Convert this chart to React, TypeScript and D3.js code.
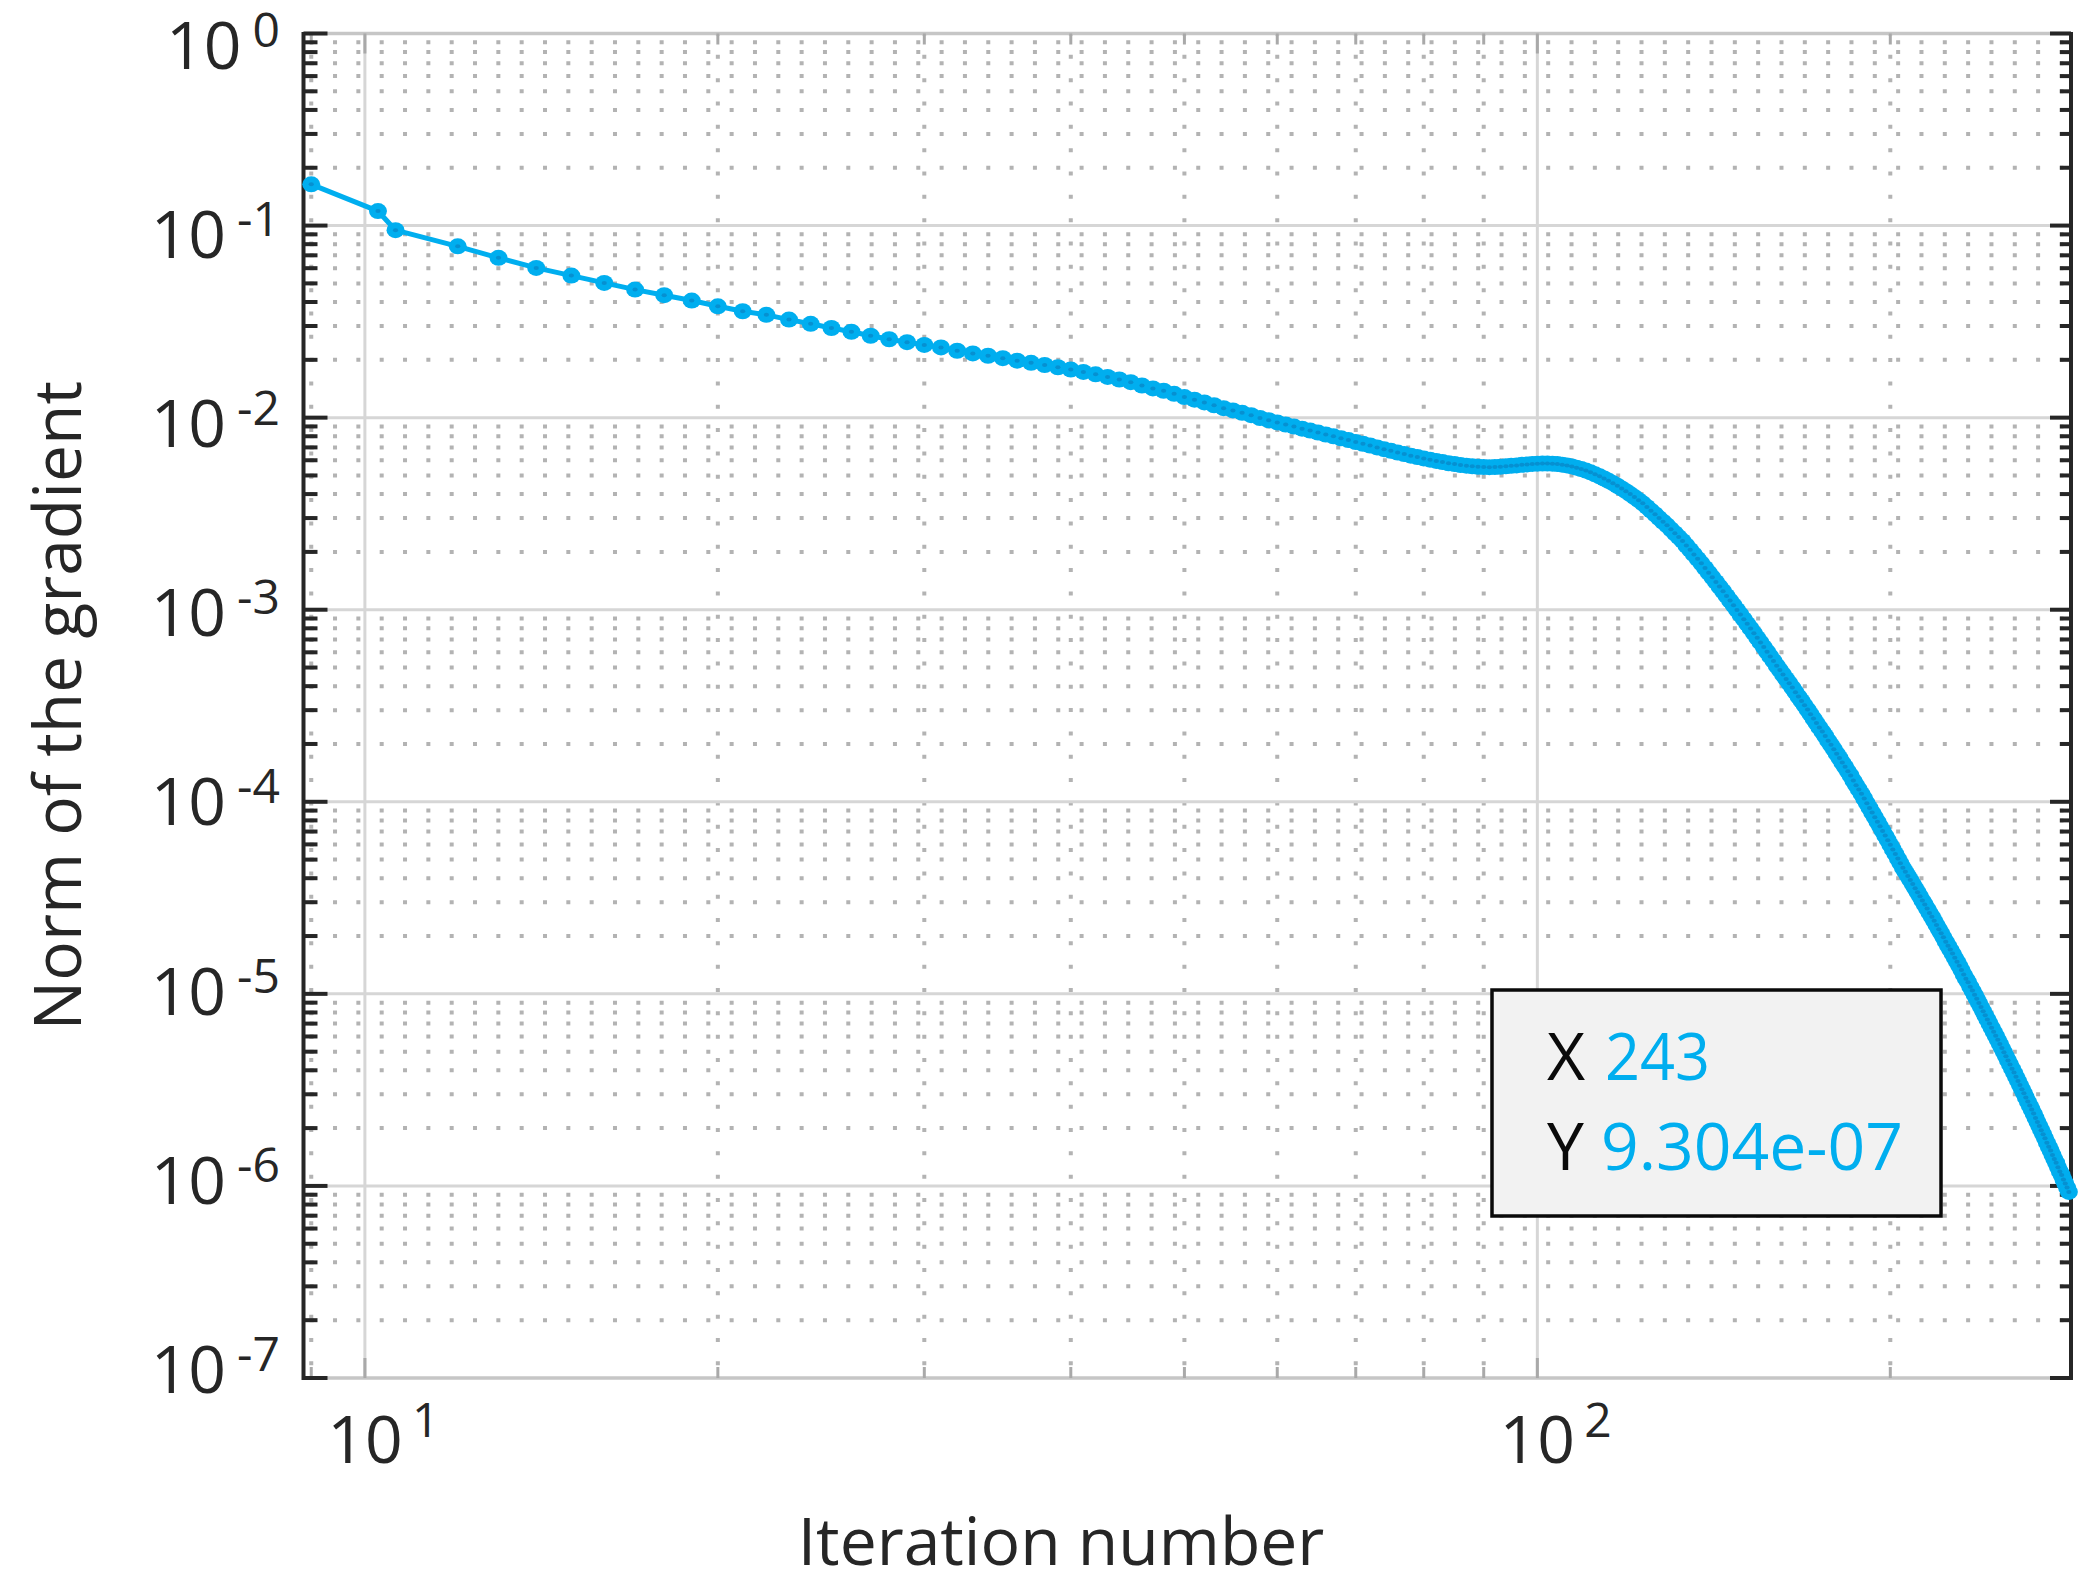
import React from 'react';
import * as d3 from 'd3';

// ---- data ----
const headIterations = [9, 10.26, 10.62];
const headNorms = [0.164, 0.119, 0.0946];
const firstRegularIteration = 12;
const regularNorms = [
  0.0780, 0.0679, 0.0602, 0.0549, 0.0503, 0.0464, 0.0434, 0.0407, 0.0380, 0.0358,
  0.0343, 0.0324, 0.0308, 0.0293, 0.0280, 0.0267, 0.0256, 0.0247, 0.0239, 0.0232,
  0.0223, 0.0216, 0.0210, 0.0204, 0.0198, 0.0193, 0.0188, 0.0183, 0.0178, 0.0173,
  0.0168, 0.0163, 0.0158, 0.0153, 0.0147, 0.0142, 0.0138, 0.0133, 0.0128, 0.0124,
  0.0120, 0.0116, 0.0112, 0.0109, 0.0106, 0.0103, 0.00996, 0.00969, 0.00944, 0.00921,
  0.00898, 0.00876, 0.00856, 0.00836, 0.00817, 0.00799, 0.00781, 0.00764, 0.00747, 0.00731,
  0.00716, 0.00700, 0.00685, 0.00672, 0.00658, 0.00646, 0.00634, 0.00624, 0.00613, 0.00604,
  0.00595, 0.00587, 0.00579, 0.00573, 0.00567, 0.00562, 0.00558, 0.00555, 0.00553, 0.00552,
  0.00553, 0.00555, 0.00558, 0.00561, 0.00564, 0.00568, 0.00571, 0.00574, 0.00576, 0.00577,
  0.00577, 0.00576, 0.00573, 0.00569, 0.00564, 0.00557, 0.00549, 0.00540, 0.00530, 0.00519,
  0.00507, 0.00495, 0.00482, 0.00469, 0.00456, 0.00442, 0.00428, 0.00414, 0.00400, 0.00386,
  0.00372, 0.00358, 0.00343, 0.00328, 0.00314, 0.00300, 0.00287, 0.00275, 0.00262, 0.00250,
  0.00239, 0.00228, 0.00216, 0.00205, 0.00194, 0.00184, 1.743e-3, 1.649e-3, 1.559e-3, 1.475e-3,
  1.395e-3, 1.319e-3, 1.248e-3, 1.180e-3, 1.116e-3, 1.055e-3, 9.98e-4, 9.44e-4, 8.93e-4, 8.44e-4,
  7.99e-4, 7.55e-4, 7.14e-4, 6.76e-4, 6.39e-4, 6.04e-4, 5.71e-4, 5.41e-4, 5.11e-4, 4.85e-4,
  4.60e-4, 4.36e-4, 4.14e-4, 3.93e-4, 3.72e-4, 3.53e-4, 3.35e-4, 3.18e-4, 3.02e-4, 2.86e-4,
  2.71e-4, 2.57e-4, 2.44e-4, 2.32e-4, 2.20e-4, 2.08e-4, 1.98e-4, 1.88e-4, 1.78e-4, 1.69e-4,
  1.60e-4, 1.52e-4, 1.44e-4, 1.37e-4, 1.29e-4, 1.22e-4, 1.16e-4, 1.10e-4, 1.04e-4, 9.82e-5,
  9.29e-5, 8.79e-5, 8.32e-5, 7.87e-5, 7.45e-5, 7.05e-5, 6.67e-5, 6.31e-5, 5.97e-5, 5.65e-5,
  5.35e-5, 5.06e-5, 4.79e-5, 4.53e-5, 4.32e-5, 4.11e-5, 3.92e-5, 3.73e-5, 3.55e-5, 3.38e-5,
  3.22e-5, 3.06e-5, 2.92e-5, 2.78e-5, 2.64e-5, 2.52e-5, 2.40e-5, 2.28e-5, 2.17e-5, 2.07e-5,
  1.97e-5, 1.87e-5, 1.78e-5, 1.70e-5, 1.62e-5, 1.54e-5, 1.47e-5, 1.40e-5, 1.33e-5, 1.26e-5,
  1.20e-5, 1.15e-5, 1.09e-5, 1.04e-5, 9.89e-6, 9.42e-6, 8.96e-6, 8.53e-6, 8.12e-6, 7.73e-6,
  7.36e-6, 7.01e-6, 6.67e-6, 6.35e-6, 6.05e-6, 5.76e-6, 5.48e-6, 5.22e-6, 4.97e-6, 4.73e-6,
  4.50e-6, 4.29e-6, 4.08e-6, 3.89e-6, 3.70e-6, 3.52e-6, 3.35e-6, 3.19e-6, 3.04e-6, 2.89e-6,
  2.75e-6, 2.62e-6, 2.50e-6, 2.38e-6, 2.26e-6, 2.15e-6, 2.05e-6, 1.95e-6, 1.86e-6, 1.77e-6,
  1.68e-6, 1.60e-6, 1.53e-6, 1.45e-6, 1.38e-6, 1.32e-6, 1.25e-6, 1.19e-6, 1.14e-6, 1.08e-6,
  1.03e-6, 9.80e-7, 9.304e-7,
];
const xDomain = [8.864, 285.2];
const yDomain = [1e-7, 1];
const xTickExponents = [1, 2];
const yTickExponents = [0, -1, -2, -3, -4, -5, -6, -7];
const tipIteration = 243;
const tipNorm = 9.304e-7;
const xTitle = 'Iteration number';
const yTitle = 'Norm of the gradient';

const FONT = "'Open Sans', 'Noto Sans', sans-serif";
const LINE_COLOR = '#00aeef';
const TEXT_COLOR = '#262626';

function fmtExp(v: number) {
  const [m, e] = v.toExponential(3).split('e');
  const n = parseInt(e, 10);
  const s = n < 0 ? '-' : '+';
  return `${m}e${s}${String(Math.abs(n)).padStart(2, '0')}`;
}

export default function App() {
  const W = 2089, H = 1594;
  const L = 303.5, R = 2071, T = 33.5, B = 1378;
  const x = d3.scaleLog().domain(xDomain).range([L, R]);
  const y = d3.scaleLog().domain(yDomain).range([B, T]);

  const points: [number, number][] = [
    ...headIterations.map((it, i) => [it, headNorms[i]] as [number, number]),
    ...regularNorms.map((v, i) => [firstRegularIteration + i, v] as [number, number]),
  ];
  const line = d3.line<[number, number]>().x(d => x(d[0])).y(d => y(d[1]));

  const isPow10 = (v: number) => Math.abs(Math.log10(v) - Math.round(Math.log10(v))) < 1e-9;
  const xTicks = x.ticks();
  const yTicks = y.ticks();
  const xMinor = xTicks.filter(v => !isPow10(v));
  const xMajor = xTicks.filter(v => isPow10(v));
  const yMinor = yTicks.filter(v => !isPow10(v));
  const yMajor = yTicks.filter(v => isPow10(v));

  return (
    <svg width={W} height={H} style={{ position: 'absolute', left: 0, top: 0, background: '#fff' }}
      fontFamily={FONT}>
      <rect x={0} y={0} width={W} height={H} fill="#fff" />
      {/* minor grid */}
      <g stroke="#b3b3b3" strokeWidth={4} strokeDasharray="4 19.33">
        {yMinor.map((v, i) => (
          <line key={'hy' + i} x1={L} x2={R} y1={y(v)} y2={y(v)} strokeDashoffset={-6.2} />
        ))}
        {xMinor.map((v, i) => (
          <line key={'vx' + i} x1={x(v)} x2={x(v)} y1={T} y2={B} strokeDashoffset={2} />
        ))}
      </g>
      {/* major grid */}
      <g stroke="#d6d6d6" strokeWidth={3}>
        {yMajor.filter(v => v > yDomain[0] && v < yDomain[1]).map((v, i) => (
          <line key={'gy' + i} x1={L} x2={R} y1={y(v)} y2={y(v)} />
        ))}
        {xMajor.map((v, i) => (
          <line key={'gx' + i} x1={x(v)} x2={x(v)} y1={T} y2={B} />
        ))}
      </g>
      {/* top / bottom borders (x axis, light) */}
      <g stroke="#c6c6c6" strokeWidth={3.5}>
        <line x1={L} x2={R} y1={T} y2={T} />
        <line x1={L} x2={R} y1={B} y2={B} />
      </g>
      <g stroke="#a9a9a9" strokeWidth={3}>
        {xTicks.map((v, i) => {
          const len = isPow10(v) ? 20 : 11;
          return (
            <g key={'xt' + i}>
              <line x1={x(v)} x2={x(v)} y1={B} y2={B - len} />
              <line x1={x(v)} x2={x(v)} y1={T} y2={T + len} />
            </g>
          );
        })}
      </g>
      {/* y axes */}
      <g stroke={TEXT_COLOR} strokeWidth={4}>
        <line x1={L} x2={L} y1={T - 1.5} y2={B + 2} />
        <line x1={R} x2={R} y1={T - 1.5} y2={B + 2} />
        {yTicks.map((v, i) => {
          const maj = isPow10(v);
          return (
            <g key={'yt' + i}>
              <line x1={L} x2={L + (maj ? 24 : 14)} y1={y(v)} y2={y(v)} />
              <line x1={R} x2={R - (maj ? 21 : 11)} y1={y(v)} y2={y(v)} />
            </g>
          );
        })}
      </g>
      {/* y tick labels */}
      <g fill={TEXT_COLOR} fontSize={66}>
        {yTickExponents.map(e => {
          const py = y(Math.pow(10, e));
          const drift = ((py - T) / (B - T)) * 20;
          return (
            <text key={'yl' + e} x={280} y={py + 35 - drift} textAnchor="end">
              10
              <tspan dx={11} dy={-22} fontSize={48}>{String(e)}</tspan>
            </text>
          );
        })}
      </g>
      {/* x tick labels */}
      <g fill={TEXT_COLOR}>
        {xTickExponents.map(e => {
          const px = x(Math.pow(10, e));
          return (
            <g key={'xl' + e}>
              <text x={px} y={1463} textAnchor="middle" fontSize={66}>10</text>
              <text x={px + 47} y={1437} fontSize={48}>{String(e)}</text>
            </g>
          );
        })}
      </g>
      {/* axis titles */}
      <text x={1061} y={1565} textAnchor="middle" fontSize={66} fill={TEXT_COLOR}>{xTitle}</text>
      <text transform={`translate(81, ${(T + B) / 2}) rotate(-90)`} textAnchor="middle" fontSize={66}
        fill={TEXT_COLOR}>{yTitle}</text>
      {/* data */}
      <path d={line(points) || ''} fill="none" stroke={LINE_COLOR} strokeWidth={5}
        strokeLinejoin="round" strokeLinecap="round" />
      <g>
        {points.map((p, i) => (
          <ellipse key={'m' + i} cx={x(p[0])} cy={y(p[1])} rx={9} ry={8} fill={LINE_COLOR} />
        ))}
        {points.map((p, i) => (
          <ellipse key={'c' + i} cx={x(p[0])} cy={y(p[1])} rx={2.6} ry={2} fill="#0e64a6" fillOpacity={0.4} />
        ))}
      </g>
      {/* data tip */}
      <g>
        <rect x={1492} y={990} width={449} height={226} fill="#f2f2f2" stroke="#0a0a0a" strokeWidth={3.5} />
        <text x={1547} y={1080} fontSize={66} fill="#0a0a0a">X</text>
        <text x={1605} y={1080} fontSize={66} fill={LINE_COLOR} textLength={105} lengthAdjust="spacingAndGlyphs">
          {String(tipIteration)}
        </text>
        <text x={1547} y={1170} fontSize={66} fill="#0a0a0a">Y</text>
        <text x={1601} y={1170} fontSize={66} fill={LINE_COLOR} textLength={302} lengthAdjust="spacingAndGlyphs">
          {fmtExp(tipNorm)}
        </text>
      </g>
    </svg>
  );
}
